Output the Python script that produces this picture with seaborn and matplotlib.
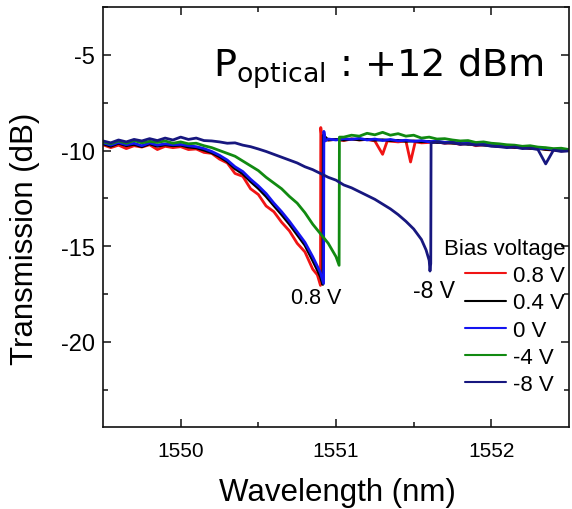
import numpy as np
import pandas as pd
import matplotlib
matplotlib.use("Agg")
import matplotlib.pyplot as plt
import seaborn as sns

# ---------------- data ----------------
bias_labels = ["0.8 V", "0.4 V", "0 V", "-4 V", "-8 V"]
bias_colors = ["#f01414", "#000000", "#1414f0", "#118a11", "#17177f"]

wl_p08 = [1549.50, 1549.55, 1549.60, 1549.65, 1549.70, 1549.75, 1549.80, 1549.85, 1549.90, 1549.95,
          1550.00, 1550.05, 1550.10, 1550.15, 1550.20, 1550.25, 1550.30, 1550.35, 1550.40, 1550.45,
          1550.50, 1550.55, 1550.60, 1550.65, 1550.70, 1550.75, 1550.80, 1550.85,
          1550.88, 1550.90, 1550.902, 1550.91,
          1550.95, 1551.00, 1551.05, 1551.10, 1551.15, 1551.20, 1551.25, 1551.30, 1551.33, 1551.40,
          1551.45, 1551.48, 1551.51, 1551.55,
          1551.60, 1551.65, 1551.70, 1551.75, 1551.80, 1551.85, 1551.90, 1551.95, 1552.00, 1552.05,
          1552.10, 1552.15, 1552.20, 1552.25, 1552.30, 1552.35, 1552.40, 1552.45, 1552.50]
t_p08 = [-9.70, -9.85, -9.72, -9.90, -9.75, -9.82, -9.70, -9.95, -9.78, -9.85,
         -9.80, -9.95, -9.92, -10.10, -10.15, -10.45, -10.65, -11.20, -11.35, -12.00,
         -12.30, -12.90, -13.20, -13.75, -14.20, -14.85, -15.30, -16.20,
         -16.50, -17.05, -8.80, -9.45,
         -9.45, -9.42, -9.48, -9.40, -9.45, -9.42, -9.50, -10.20, -9.50, -9.55,
         -9.50, -10.60, -9.55, -9.60,
         -9.58, -9.55, -9.62, -9.60, -9.68, -9.62, -9.75, -9.70, -9.72, -9.80,
         -9.78, -9.85, -9.82, -9.90, -9.85, -9.95, -9.98, -10.02, -10.00]

wl_p04 = [1549.50, 1549.55, 1549.60, 1549.65, 1549.70, 1549.75, 1549.80, 1549.85, 1549.90, 1549.95,
          1550.00, 1550.05, 1550.10, 1550.15, 1550.20, 1550.25, 1550.30, 1550.35, 1550.40, 1550.45,
          1550.50, 1550.55, 1550.60, 1550.65, 1550.70, 1550.75, 1550.80, 1550.85,
          1550.88, 1550.90, 1550.915, 1550.918, 1550.95,
          1551.00, 1551.05, 1551.10, 1551.15, 1551.20, 1551.25, 1551.30, 1551.35, 1551.40, 1551.45,
          1551.50, 1551.55, 1551.60, 1551.65, 1551.70, 1551.75, 1551.80, 1551.85, 1551.90, 1551.95,
          1552.00, 1552.05, 1552.10, 1552.15, 1552.20, 1552.25, 1552.30, 1552.35, 1552.40, 1552.45,
          1552.50]
t_p04 = [-9.65, -9.78, -9.62, -9.75, -9.68, -9.80, -9.65, -9.78, -9.70, -9.75,
         -9.72, -9.82, -9.86, -9.98, -10.12, -10.32, -10.58, -10.95, -11.22, -11.62,
         -11.98, -12.40, -12.88, -13.35, -13.85, -14.40, -14.95, -15.75,
         -16.25, -16.60, -17.00, -9.20, -9.45,
         -9.42, -9.45, -9.40, -9.44, -9.42, -9.46, -9.44, -9.48, -9.47, -9.52,
         -9.50, -9.54, -9.53, -9.58, -9.57, -9.62, -9.62, -9.68, -9.66, -9.72,
         -9.74, -9.78, -9.80, -9.83, -9.85, -9.88, -9.90, -9.94, -9.96, -9.98,
         -10.00]

wl_0 = [1549.50, 1549.55, 1549.60, 1549.65, 1549.70, 1549.75, 1549.80, 1549.85, 1549.90, 1549.95,
        1550.00, 1550.05, 1550.10, 1550.15, 1550.20, 1550.25, 1550.30, 1550.35, 1550.40, 1550.45,
        1550.50, 1550.55, 1550.60, 1550.65, 1550.70, 1550.75, 1550.80, 1550.85,
        1550.88, 1550.90, 1550.92, 1550.922, 1550.93, 1550.95,
        1551.00, 1551.05, 1551.10, 1551.15, 1551.20, 1551.25, 1551.30, 1551.35, 1551.40, 1551.45,
        1551.50, 1551.55, 1551.60, 1551.65, 1551.70, 1551.75, 1551.80, 1551.85, 1551.90, 1551.95,
        1552.00, 1552.05, 1552.10, 1552.15, 1552.20, 1552.25, 1552.30, 1552.35, 1552.40, 1552.45,
        1552.50]
t_0 = [-9.60, -9.72, -9.58, -9.70, -9.62, -9.75, -9.60, -9.72, -9.65, -9.70,
       -9.68, -9.75, -9.80, -9.90, -10.05, -10.25, -10.50, -10.85, -11.10, -11.50,
       -11.85, -12.25, -12.75, -13.20, -13.70, -14.25, -14.80, -15.55,
       -16.05, -16.40, -16.95, -9.00, -9.50, -9.40,
       -9.45, -9.38, -9.42, -9.36, -9.45, -9.40, -9.48, -9.42, -9.50, -9.46,
       -9.52, -9.48, -9.55, -9.50, -9.58, -9.55, -9.65, -9.60, -9.70, -9.66,
       -9.72, -9.75, -9.80, -9.78, -9.85, -9.82, -9.90, -9.88, -9.95, -9.98,
       -9.96]

wl_m4 = [1549.50, 1549.55, 1549.60, 1549.65, 1549.70, 1549.75, 1549.80, 1549.85, 1549.90, 1549.95,
         1550.00, 1550.05, 1550.10, 1550.15, 1550.20, 1550.25, 1550.30, 1550.35, 1550.40, 1550.45,
         1550.50, 1550.55, 1550.60, 1550.65, 1550.70, 1550.75, 1550.80, 1550.85, 1550.90, 1550.95,
         1551.00, 1551.02, 1551.022,
         1551.05, 1551.10, 1551.15, 1551.20, 1551.25, 1551.30, 1551.35, 1551.40, 1551.45, 1551.50,
         1551.55, 1551.60, 1551.65, 1551.70, 1551.75, 1551.80, 1551.85, 1551.90, 1551.95, 1552.00,
         1552.05, 1552.10, 1552.15, 1552.20, 1552.25, 1552.30, 1552.35, 1552.40, 1552.45, 1552.50]
t_m4 = [-9.55, -9.65, -9.50, -9.62, -9.48, -9.60, -9.52, -9.58, -9.50, -9.62,
        -9.55, -9.65, -9.62, -9.75, -9.85, -10.00, -10.15, -10.30, -10.55, -10.80,
        -11.05, -11.40, -11.70, -12.00, -12.40, -12.75, -13.25, -13.85, -14.35, -14.85,
        -15.55, -16.00, -9.30,
        -9.30, -9.20, -9.25, -9.10, -9.18, -9.05, -9.20, -9.12, -9.25, -9.20,
        -9.35, -9.30, -9.40, -9.38, -9.45, -9.50, -9.48, -9.58, -9.55, -9.62,
        -9.65, -9.70, -9.72, -9.78, -9.75, -9.82, -9.85, -9.90, -9.88, -9.95]

wl_m8 = [1549.50, 1549.55, 1549.60, 1549.65, 1549.70, 1549.75, 1549.80, 1549.85, 1549.90, 1549.95,
         1550.00, 1550.05, 1550.10, 1550.15, 1550.20, 1550.25, 1550.30, 1550.35, 1550.40, 1550.45,
         1550.50, 1550.55, 1550.60, 1550.65, 1550.70, 1550.75, 1550.80, 1550.85, 1550.90, 1550.95,
         1551.00, 1551.05, 1551.10, 1551.15, 1551.20, 1551.25, 1551.30, 1551.35, 1551.40, 1551.45,
         1551.50, 1551.55, 1551.58, 1551.60, 1551.605, 1551.61, 1551.612,
         1551.65, 1551.70, 1551.75, 1551.80, 1551.85, 1551.90, 1551.95, 1552.00, 1552.05,
         1552.10, 1552.15, 1552.20, 1552.25, 1552.30, 1552.35, 1552.40, 1552.45, 1552.50]
t_m8 = [-9.50, -9.60, -9.45, -9.55, -9.42, -9.50, -9.38, -9.48, -9.35, -9.45,
        -9.30, -9.42, -9.35, -9.48, -9.50, -9.55, -9.62, -9.60, -9.72, -9.80,
        -9.92, -10.05, -10.20, -10.35, -10.50, -10.65, -10.85, -11.00, -11.20, -11.40,
        -11.55, -11.80, -11.95, -12.15, -12.35, -12.55, -12.80, -13.05, -13.35, -13.70,
        -14.10, -14.65, -15.20, -15.75, -16.30, -15.90, -9.60,
        -9.55, -9.62, -9.58, -9.68, -9.65, -9.72, -9.70, -9.78, -9.80,
        -9.85, -9.82, -9.90, -9.88, -9.95, -10.70, -9.98, -10.05, -10.02]

wavelengths = [wl_p08, wl_p04, wl_0, wl_m4, wl_m8]
transmissions = [t_p08, t_p04, t_0, t_m4, t_m8]

frames = []
for lab, w, t in zip(bias_labels, wavelengths, transmissions):
    frames.append(pd.DataFrame({"Wavelength": w, "Transmission": t, "Bias": lab}))
df = pd.concat(frames, ignore_index=True)

# ---------------- figure ----------------
sns.set_style("ticks")
plt.rcParams["font.family"] = ["Liberation Sans", "DejaVu Sans"]
plt.rcParams["mathtext.default"] = "regular"
plt.rcParams["text.color"] = "black"
plt.rcParams["axes.labelcolor"] = "black"
plt.rcParams["xtick.color"] = "black"
plt.rcParams["ytick.color"] = "black"
plt.rcParams["xtick.labelcolor"] = "black"
plt.rcParams["ytick.labelcolor"] = "black"

fig = plt.figure(figsize=(5.72, 5.10), dpi=100)
ax = fig.add_axes([103 / 572, 1 - 428 / 510, (569 - 103) / 572, (428 - 8) / 510])

sns.lineplot(data=df, x="Wavelength", y="Transmission", hue="Bias",
             hue_order=bias_labels, palette=dict(zip(bias_labels, bias_colors)),
             estimator=None, sort=False, linewidth=2.0, ax=ax, legend=True)

ax.set_xlim(1549.5, 1552.5)
ax.set_ylim(-24.45, -2.5)
ax.set_xticks([1550, 1551, 1552])
ax.set_xticks([1550.5, 1551.5], minor=True)
ax.set_yticks([-20, -15, -10, -5])
ax.set_yticks([-22.5, -17.5, -12.5, -7.5, -2.5], minor=True)
ax.set_yticklabels(["-20", "-15", "-10", "-5"])
ax.tick_params(axis="both", which="both", direction="in", top=True, right=True,
               width=1.1, color="#111111", labelcolor="black")
ax.tick_params(axis="both", which="major", length=5.5)
ax.tick_params(axis="both", which="minor", length=3.5)
ax.tick_params(axis="x", labelsize=15, pad=10)
ax.tick_params(axis="y", labelsize=17, pad=6)
for sp in ax.spines.values():
    sp.set_linewidth(1.2)
    sp.set_color("#111111")

ax.set_xlabel("Wavelength (nm)", fontsize=22.5, color="black")
ax.set_ylabel("Transmission (dB)", fontsize=22.5, color="black")
ax.xaxis.set_label_coords(0.504, -0.119)
ax.yaxis.set_label_coords(-0.136, 0.45)

# legend
handles, labels = ax.get_legend_handles_labels()
ax.get_legend().remove()
for h in handles:
    h.set_linewidth(1.5)
leg = fig.legend(handles, labels, title="Bias voltage", loc="upper right",
                 bbox_to_anchor=(565 / 572, 1 - 239 / 510), frameon=False,
                 fontsize=16, title_fontsize=16, handlelength=1.85, handletextpad=0.32,
                 labelspacing=0.28, borderpad=0, borderaxespad=0, alignment="right",
                 labelcolor="black")
leg.get_title().set_color("black")

# annotations
ax.text(1550.87, -17.7, "0.8 V", fontsize=15.5, ha="center", va="center", color="black")
ax.text(1551.63, -17.3, "-8 V", fontsize=16.5, ha="center", va="center", color="black")

fig.text(544 / 572, 1 - 77 / 510, r"P$_{optical}$ : +12 dBm", fontsize=27.5,
         family=["DejaVu Sans"], ha="right", va="baseline", color="black")

fig.savefig("out.png", dpi=100)
